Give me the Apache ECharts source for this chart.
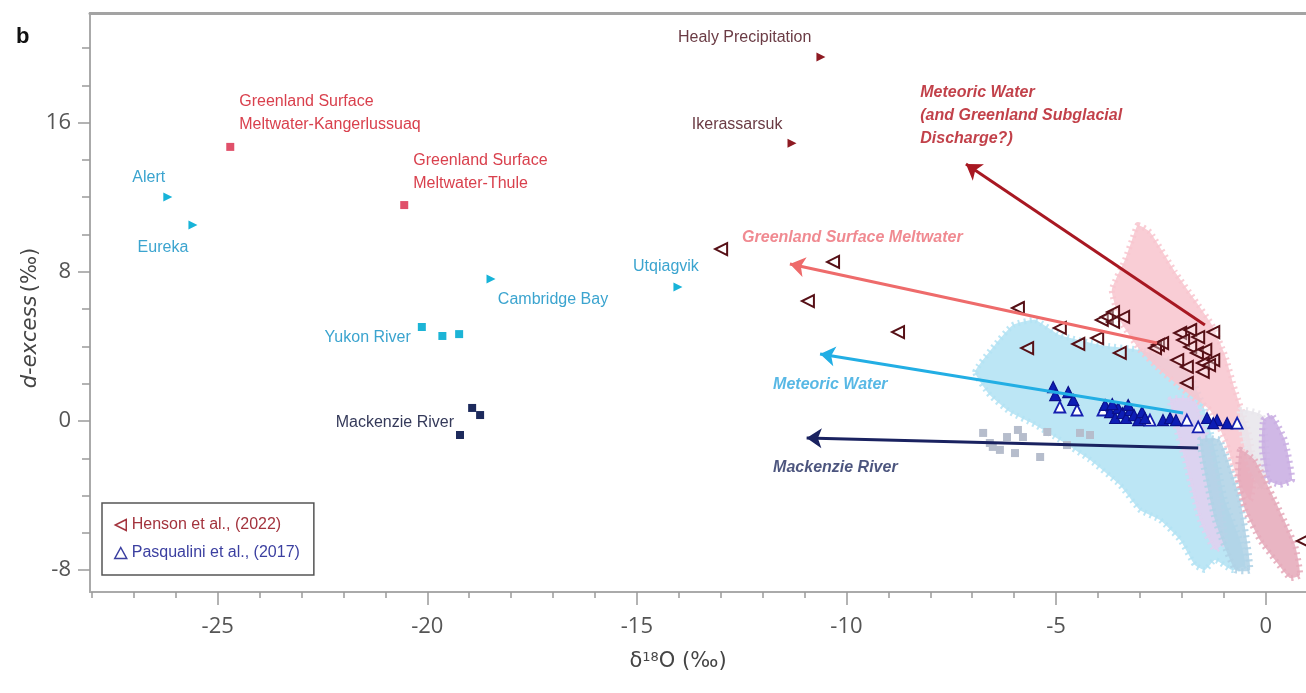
<html>
<head>
<meta charset="utf-8">
<title>d-excess vs d18O</title>
<style>
html, body, #main {
  margin: 0;
  padding: 0;
  width: 100%;
  height: 100%;
  background: #fff;
}
</style>
<script src="https://cdn.jsdelivr.net/npm/echarts/dist/echarts.min.js"></script>
</head>
<body>
<div id="main"></div>
<script>
// ---- ticks ----
var xLabelValues = [-25, -20, -15, -10, -5, 0];
var xMinorValues = [-28, -27, -26, -25, -24, -23, -22, -21, -20, -19, -18, -17, -16, -15, -14,
                    -13, -12, -11, -10, -9, -8, -7, -6, -5, -4, -3, -2, -1, 0];
var yLabelValues = [-8, 0, 8, 16];
var yMinorValues = [-8, -6, -4, -2, 0, 2, 4, 6, 8, 10, 12, 14, 16, 18, 20];

// ---- labelled end-member sites ----
var healy = [[-10.61, 19.52]];
var ikerassarsuk = [[-11.30, 14.9]];
var kangerlussuaq = [[-24.70, 14.7]];
var thule = [[-20.55, 11.58]];
var alertSite = [[-26.19, 12.01]];
var eureka = [[-25.59, 10.51]];
var cambridgeBay = [[-18.48, 7.61]];
var utqiagvik = [[-14.02, 7.18]];
var yukonRiver = [[-20.13, 5.04], [-19.64, 4.56], [-19.24, 4.66]];
var mackenzieRiver = [[-19.22, -0.75], [-18.93, 0.70], [-18.74, 0.32]];

// ---- Henson et al. (2022) ----
var henson = [
  [-12.99, 9.22], [-10.32, 8.53], [-10.92, 6.43], [-8.77, 4.77],
  [-5.91, 6.06], [-4.91, 4.99], [-5.69, 3.91], [-4.47, 4.13], [-4.02, 4.45],
  [-3.91, 5.42], [-3.79, 5.58], [-3.64, 5.84], [-3.40, 5.58], [-3.64, 5.31], [-3.48, 3.65],
  [-2.57, 4.08], [-2.64, 3.91], [-2.47, 4.18], [-2.04, 4.72], [-1.80, 4.88], [-1.61, 4.50],
  [-1.25, 4.77], [-1.97, 4.34], [-1.80, 3.97], [-1.64, 3.65], [-1.44, 3.81], [-2.11, 3.27],
  [-1.88, 2.90], [-1.50, 3.11], [-1.25, 3.27], [-1.50, 2.63], [-1.88, 2.04], [-1.35, 3.00],
  [0.89, -6.43]
];

// ---- Pasqualini et al. (2017) ----
var pasqFilled = [
  [-5.07, 1.82], [-5.02, 1.39], [-4.71, 1.55], [-4.59, 1.13], [-3.83, 0.86], [-3.71, 0.48],
  [-3.59, 0.16], [-3.52, 0.70], [-3.42, 0.43], [-3.33, 0.16], [-3.23, 0.59], [-3.14, 0.32],
  [-3.04, 0.05], [-2.95, 0.48], [-2.45, 0.05], [-2.28, 0.16], [-1.40, 0.16], [-1.16, 0.05],
  [-0.92, -0.11], [-1.25, -0.11], [-3.66, 0.91], [-3.28, 0.86], [-2.88, 0.16], [-2.14, 0.05]
];
var pasqOpen = [
  [-4.91, 0.75], [-4.50, 0.59], [-3.88, 0.59], [-2.76, 0.05], [-1.88, 0.05], [-1.61, -0.32], [-0.68, -0.11]
];

// ---- grey squares under the Mackenzie arrow ----
var greySquares = [
  [-6.74, -0.64], [-6.58, -1.18], [-6.51, -1.39], [-6.34, -1.55], [-6.17, -0.86], [-5.98, -1.72],
  [-5.91, -0.48], [-5.79, -0.86], [-5.38, -1.93], [-5.21, -0.59], [-4.74, -1.29], [-4.43, -0.64],
  [-4.19, -0.75]
];

// ---- background data clouds (outline vertices) ----
var cloudBlue = [
  [-6.93, 2.63], [-6.46, 4.08], [-6.03, 5.15], [-5.50, 5.42], [-4.91, 4.61], [-3.95, 4.08],
  [-3.00, 3.81], [-2.28, 3.27], [-1.81, 2.47], [-1.45, 0.59], [-1.21, -1.55], [-0.97, -4.24],
  [-0.61, -6.38], [-0.49, -7.72], [-0.80, -7.99], [-1.21, -7.45], [-1.45, -7.99], [-1.69, -7.72],
  [-2.04, -6.38], [-2.52, -5.31], [-3.00, -4.77], [-3.48, -3.43], [-4.19, -2.09], [-4.91, -1.02],
  [-5.50, -0.21], [-6.10, 0.48], [-6.58, 1.39]
];
var cloudLavender = [
  [-2.28, 1.13], [-1.69, 1.13], [-1.21, -2.63], [-0.97, -6.38], [-1.21, -6.92], [-1.57, -5.31], [-1.93, -2.09]
];
var cloudSteel = [
  [-1.57, -1.02], [-1.09, -1.02], [-0.61, -4.24], [-0.37, -7.99], [-0.73, -7.99], [-1.21, -5.31]
];
var cloudPink = [
  [-3.05, 10.51], [-2.76, 10.13], [-2.16, 7.99], [-1.69, 6.49], [-1.28, 5.15], [-0.97, 3.54],
  [-0.73, 1.66], [-0.42, -0.48], [-0.26, -2.63], [-0.37, -4.24], [-0.66, -3.16], [-0.97, -1.02],
  [-1.33, 0.59], [-1.81, 1.39], [-2.52, 2.73], [-3.00, 3.81], [-3.48, 5.42], [-3.67, 7.02],
  [-3.36, 8.63], [-3.19, 9.71]
];
var cloudGrey = [
  [-0.61, 0.59], [-0.09, 0.32], [0.05, -2.63], [-0.09, -3.70], [-0.37, -2.63], [-0.54, -1.02]
];
var cloudRose = [
  [-0.61, -1.55], [-0.26, -2.09], [0.22, -4.24], [0.70, -6.65], [0.82, -8.26], [0.58, -8.42],
  [0.22, -7.45], [-0.14, -6.38], [-0.49, -4.77], [-0.66, -3.16]
];
var cloudPurple = [
  [-0.06, 0.05], [0.15, 0.32], [0.46, -1.02], [0.63, -3.16], [0.34, -3.43], [0.05, -3.16], [-0.09, -1.55]
];

// ---- arrows: [tail, head] ----
var arrowSubglacial = [[-1.45, 5.15], [-7.15, 13.78]];
var arrowSurfaceMelt = [[-2.59, 4.18], [-11.35, 8.42]];
var arrowMeteoric = [[-1.97, 0.43], [-10.63, 3.59]];
var arrowMackenzie = [[-1.61, -1.45], [-10.95, -0.91]];

// ---- annotation anchors (top-left of text) ----
var noteSubglacial = [[-8.24, 18.23]];
var noteSurfaceMelt = [[-12.49, 10.35]];
var noteMeteoric = [[-11.75, 2.47]];
var noteMackenzie = [[-11.75, -1.98]];

var FONT = "'Liberation Sans', Arial, sans-serif";
var AXIS_FONT = "'DejaVu Sans', sans-serif";
var HENSON = 'Henson et al., (2022)';
var PASQ = 'Pasqualini et al., (2017)';
var RIGHT_TRI = 'path://M0,0L10,5L0,10Z';
var LEFT_TRI = 'path://M10,0L0,5L10,10Z';

var clouds = [cloudBlue, cloudLavender, cloudSteel, cloudPink, cloudGrey, cloudRose, cloudPurple];
var cloudColors = ['#b3e2f4', '#e0d0ef', '#b0d3e6', '#f8c6cf', '#e8e6ec', '#e6abbb', '#c9aee3'];

function site(name, data, symbol, size, color, labelColor, position, offset, lineHeight) {
  return {
    name: name,
    type: 'scatter',
    silent: true,
    z: 4,
    symbol: symbol,
    symbolSize: size,
    itemStyle: { color: color, opacity: 1 },
    data: data.map(function (d, i) {
      return i === 0 ? { value: d, label: { show: true } } : { value: d };
    }),
    label: {
      show: false,
      formatter: name,
      position: position,
      offset: offset,
      color: labelColor,
      fontSize: 16,
      fontFamily: FONT,
      lineHeight: lineHeight || 20
    }
  };
}

function note(text, data, color, lineHeight) {
  return {
    type: 'scatter',
    silent: true,
    z: 6,
    symbolSize: 0,
    itemStyle: { color: 'transparent' },
    data: data,
    label: {
      show: true,
      formatter: text,
      position: [0, 0],
      align: 'left',
      verticalAlign: 'top',
      color: color,
      fontSize: 16,
      fontWeight: 'bold',
      fontStyle: 'italic',
      fontFamily: FONT,
      lineHeight: lineHeight || 20
    }
  };
}

function arrow(coords, color) {
  return {
    type: 'lines',
    coordinateSystem: 'cartesian2d',
    silent: true,
    z: 5,
    symbol: ['none', 'arrow'],
    symbolSize: 15,
    lineStyle: { color: color, width: 3, opacity: 1 },
    data: [{ coords: coords }]
  };
}

var xMin = -28.046, xMax = 0.962;
var yMin = -9.17, yMax = 21.88;
var tickStyle = { color: '#9a9a9a', width: 1.5 };

var chart = echarts.init(document.getElementById('main'));
var option = {
  backgroundColor: '#fff',
  animation: false,
  grid: { left: 90, right: 0, top: 13, bottom: 101 },
  xAxis: [
    {
      type: 'value', min: xMin, max: xMax, position: 'bottom',
      axisLine: { show: true, onZero: false, lineStyle: { color: '#aaa', width: 2 } },
      axisTick: { show: true, customValues: xLabelValues, length: 13, lineStyle: tickStyle },
      axisLabel: { customValues: xLabelValues, fontSize: 22, color: '#555', fontFamily: 'Open Sans', margin: 24 },
      splitLine: { show: false }
    },
    {
      type: 'value', min: xMin, max: xMax, position: 'bottom',
      axisLine: { show: false, onZero: false },
      axisTick: { show: true, customValues: xMinorValues, length: 6, lineStyle: tickStyle },
      axisLabel: { show: false },
      splitLine: { show: false }
    },
    {
      type: 'value', min: xMin, max: xMax, position: 'top',
      axisLine: { show: true, onZero: false, lineStyle: { color: '#a3a3a3', width: 3 } },
      axisTick: { show: false },
      axisLabel: { show: false },
      splitLine: { show: false }
    }
  ],
  yAxis: [
    {
      type: 'value', min: yMin, max: yMax, position: 'left',
      axisLine: { show: true, onZero: false, lineStyle: { color: '#aaa', width: 2 } },
      axisTick: { show: true, customValues: yLabelValues, length: 12, lineStyle: tickStyle },
      axisLabel: { customValues: yLabelValues, fontSize: 22, color: '#555', fontFamily: 'Open Sans', margin: 19 },
      splitLine: { show: false }
    },
    {
      type: 'value', min: yMin, max: yMax, position: 'left',
      axisLine: { show: false, onZero: false },
      axisTick: { show: true, customValues: yMinorValues, length: 8, lineStyle: tickStyle },
      axisLabel: { show: false },
      splitLine: { show: false }
    }
  ],
  legend: {
    left: 102, top: 503, orient: 'vertical',
    itemGap: 12, itemWidth: 12, itemHeight: 11,
    padding: [14, 14, 14, 12],
    borderColor: '#555', borderWidth: 1.5, backgroundColor: '#fff',
    selectedMode: false,
    textStyle: { fontSize: 16, fontFamily: FONT },
    data: [
      { name: HENSON, icon: LEFT_TRI, itemStyle: { color: '#fff', borderColor: '#a3333d', borderWidth: 1.5 }, textStyle: { color: '#a3333d' } },
      { name: PASQ, icon: 'triangle', itemStyle: { color: '#fff', borderColor: '#3b3fa0', borderWidth: 1.5 }, textStyle: { color: '#3b3fa0' } }
    ]
  },
  graphic: [
    { type: 'text', left: 16, top: 26, style: { text: 'b', fontSize: 22, fontWeight: 'bold', fill: '#111', fontFamily: FONT } },
    {
      type: 'text', x: 31, y: 318, rotation: Math.PI / 2,
      style: {
        text: '{i|d-excess} {n|(‰)}', textAlign: 'center', textVerticalAlign: 'middle',
        rich: {
          i: { fontSize: 21, fontStyle: 'italic', fill: '#444', fontFamily: AXIS_FONT },
          n: { fontSize: 21, fill: '#444', fontFamily: AXIS_FONT }
        }
      }
    },
    {
      type: 'text', x: 678, y: 662,
      style: {
        text: '{a|δ}{s|18}{a|O (‰)}', textAlign: 'center', textVerticalAlign: 'middle',
        rich: {
          a: { fontSize: 21, fill: '#444', fontFamily: AXIS_FONT },
          s: { fontSize: 13, fill: '#444', fontFamily: AXIS_FONT, verticalAlign: 'top', padding: [0, 0, 9, 0] }
        }
      }
    }
  ],
  series: [
    {
      type: 'custom',
      silent: true,
      z: 1,
      data: clouds.map(function (c, i) { return [i, 0]; }),
      renderItem: function (params, api) {
        var idx = api.value(0);
        var pts = clouds[idx].map(function (p) { return api.coord(p); });
        return {
          type: 'polygon',
          shape: { points: pts, smooth: 0.15 },
          style: { fill: cloudColors[idx], stroke: cloudColors[idx], lineWidth: 6, lineDash: [2, 4], opacity: 0.88 }
        };
      }
    },
    {
      type: 'scatter', silent: true, z: 2,
      symbol: 'rect', symbolSize: 8,
      itemStyle: { color: '#b6bdcc', opacity: 1 },
      data: greySquares
    },
    site('Healy Precipitation', healy, RIGHT_TRI, 9, '#8e1a22', '#6a3b44', 'left', [0, -19]),
    site('Ikerassarsuk', ikerassarsuk, RIGHT_TRI, 9, '#8e1a22', '#6a3b44', 'left', [0, -19]),
    site('Greenland Surface\nMeltwater-Kangerlussuaq', kangerlussuaq, 'rect', 8, '#e0506a', '#d9404d', 'right', [0, -34], 23),
    site('Greenland Surface\nMeltwater-Thule', thule, 'rect', 8, '#e0506a', '#d9404d', 'right', [0, -33], 23),
    site('Alert', alertSite, RIGHT_TRI, 9, '#17b3d8', '#3ba4cf', 'top', [-19, 0]),
    site('Eureka', eureka, RIGHT_TRI, 9, '#17b3d8', '#3ba4cf', 'bottom', [-30, 3]),
    site('Cambridge Bay', cambridgeBay, RIGHT_TRI, 9, '#17b3d8', '#3ba4cf', 'bottom', [62, 1]),
    site('Utqiagvik', utqiagvik, RIGHT_TRI, 9, '#17b3d8', '#3ba4cf', 'top', [-12, -1]),
    site('Yukon River', yukonRiver, 'rect', 8, '#1cb4d6', '#3ba4cf', 'left', [-2, 11]),
    site('Mackenzie River', mackenzieRiver, 'rect', 8, '#1d2a5c', '#353a5a', 'left', [3, -12]),
    {
      name: PASQ, type: 'scatter', silent: true, z: 3,
      symbol: 'triangle', symbolSize: 11,
      itemStyle: { color: '#fff', borderColor: '#1520b0', borderWidth: 1.8, opacity: 1 },
      data: pasqOpen
    },
    {
      name: PASQ, type: 'scatter', silent: true, z: 3,
      symbol: 'triangle', symbolSize: 11,
      itemStyle: { color: '#0d1db5', borderColor: '#0a108a', borderWidth: 1.2, opacity: 1 },
      data: pasqFilled
    },
    {
      name: HENSON, type: 'scatter', silent: true, z: 3,
      symbol: LEFT_TRI, symbolSize: 12,
      itemStyle: { color: 'rgba(255,255,255,0.35)', borderColor: '#561016', borderWidth: 2, opacity: 1 },
      data: henson
    },
    arrow(arrowSubglacial, '#a81822'),
    arrow(arrowSurfaceMelt, '#ee6b6b'),
    arrow(arrowMeteoric, '#22aee4'),
    arrow(arrowMackenzie, '#1a2260'),
    note('Meteoric Water\n(and Greenland Subglacial\nDischarge?)', noteSubglacial, '#b3121d', 23),
    note('Greenland Surface Meltwater', noteSurfaceMelt, '#ec6d75'),
    note('Meteoric Water', noteMeteoric, '#2ea6de'),
    note('Mackenzie River', noteMackenzie, '#1f2a5e')
  ]
};
chart.setOption(option);
window.onresize = function () {
  chart.resize();
};
</script>
</body>
</html>
